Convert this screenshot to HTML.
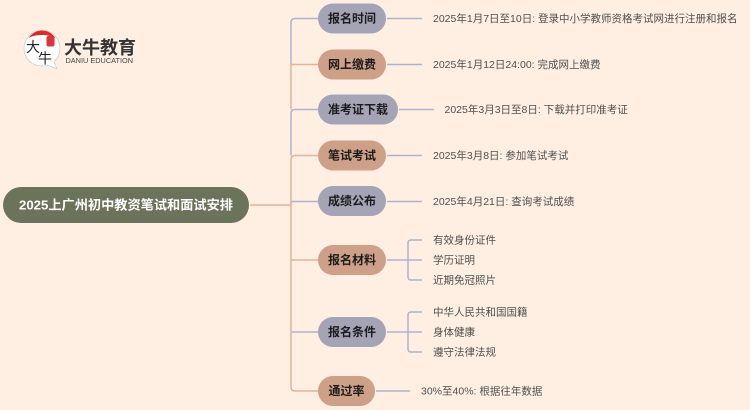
<!DOCTYPE html>
<html lang="zh-CN">
<head>
<meta charset="utf-8">
<title>2025上广州初中教资笔试和面试安排</title>
<style>
html,body{margin:0;padding:0;background:#FFEFE2;width:750px;height:410px;overflow:hidden}
svg{display:block}
text{font-family:"Liberation Sans","Noto Sans CJK SC",sans-serif}
.n{font-size:12px;font-weight:700;fill:#1c1c1c;text-anchor:middle}
.t{font-size:10.500px;fill:#4f4f4f}
.o{stroke:#E2B49A;stroke-width:1.5;fill:none}
.b{stroke:#B0B2CB;stroke-width:1.5;fill:none}
</style>
</head>
<body>
<svg width="750" height="410" viewBox="0 0 750 410" xmlns="http://www.w3.org/2000/svg">
<rect width="750" height="410" fill="#FFEFE2"/>

<!-- root connector and trunk -->
<path class="o" d="M250 205H291"/>
<path class="b" d="M318 18.500H295Q291 18.500 291 22.500V64.500"/>
<path class="o" d="M318 64.500H291"/>
<path class="b" d="M318 109.500H295Q291 109.500 291 113.500V155.500"/>
<path class="o" d="M318 155.500H295Q291 155.500 291 159.500V205"/>
<path class="o" d="M291 64.500V109.500"/>
<path class="o" d="M291 201V387Q291 391 295 391H318"/>
<path class="b" d="M291 201.500H318"/>
<path class="o" d="M291 260H318"/>
<path class="b" d="M291 332H318"/>

<!-- child connectors -->
<path class="b" d="M387 18.500H422"/>
<path class="b" d="M387 64.500H422"/>
<path class="b" d="M399 109.500H434"/>
<path class="b" d="M387 155.500H422"/>
<path class="b" d="M387 201.500H422"/>
<path class="b" d="M376 391H410"/>
<path class="b" d="M387 260H422M422 240H411Q408 240 408 243V277Q408 280 411 280H422"/>
<path class="b" d="M387 332H422M422 312H411Q408 312 408 315V349Q408 352 411 352H422"/>

<!-- root -->
<rect x="3" y="187" width="246" height="36" rx="18" fill="#6B735B"/>
<text x="126" y="209.500" font-size="13.200" font-weight="700" fill="#fff" text-anchor="middle">2025上广州初中教资笔试和面试安排</text>

<!-- branch nodes -->
<rect x="318" y="3.500" width="68" height="30" rx="15" fill="#A4A4B6"/>
<rect x="318" y="49.500" width="68" height="30" rx="15" fill="#CFA088"/>
<rect x="318" y="94.500" width="80" height="30" rx="15" fill="#A4A4B6"/>
<rect x="318" y="140.500" width="68" height="30" rx="15" fill="#CFA088"/>
<rect x="318" y="186" width="68" height="30" rx="15" fill="#A4A4B6"/>
<rect x="318" y="245" width="68" height="30" rx="15" fill="#CFA088"/>
<rect x="318" y="317" width="68" height="30" rx="15" fill="#A4A4B6"/>
<rect x="318" y="376" width="57" height="30" rx="15" fill="#CFA088"/>

<text class="n" x="352" y="22.700">报名时间</text>
<text class="n" x="352" y="68.700">网上缴费</text>
<text class="n" x="358" y="113.700">准考证下载</text>
<text class="n" x="352" y="159.700">笔试考试</text>
<text class="n" x="352" y="205.200">成绩公布</text>
<text class="n" x="352" y="264.200">报名材料</text>
<text class="n" x="352" y="336.200">报名条件</text>
<text class="n" x="346.500" y="395.200">通过率</text>

<!-- leaf text -->
<text class="t" x="433" y="22.200">2025年1月7日至10日: 登录中小学教师资格考试网进行注册和报名</text>
<text class="t" x="433" y="68.200">2025年1月12日24:00: 完成网上缴费</text>
<text class="t" x="444.500" y="113.200">2025年3月3日至8日: 下载并打印准考证</text>
<text class="t" x="433" y="159.200">2025年3月8日: 参加笔试考试</text>
<text class="t" x="433" y="205.200">2025年4月21日: 查询考试成绩</text>
<text class="t" x="433" y="243.500">有效身份证件</text>
<text class="t" x="433" y="263.700">学历证明</text>
<text class="t" x="433" y="283.700">近期免冠照片</text>
<text class="t" x="433" y="315.700">中华人民共和国国籍</text>
<text class="t" x="433" y="335.700">身体健康</text>
<text class="t" x="433" y="355.700">遵守法律法规</text>
<text class="t" x="421" y="394.700">30%至40%: 根据往年数据</text>

<!-- logo -->
<path d="M42 30.500C32 30.500 24 38.500 24 48.500C24 58.500 32 66 42 66C44 66 46 65.800 47.500 65L57 69L54 62C58 58 60 54 60 48.500C60 38.500 52 30.500 42 30.500Z" fill="#fff" stroke="#c9c9c9" stroke-width="0.700"/>
<path d="M28.500 38C32 33 37 30.500 42 30.500C47 30.500 52 33 55.500 38C50 35.500 46 35 42 35C37 35 33 35.500 28.500 38Z" fill="#E8262A"/>
<rect x="46.500" y="36" width="8" height="10.500" rx="2" fill="#D9353A"/>
<text x="26" y="52" font-size="14" fill="#222">大</text>
<text x="38" y="63.500" font-size="14" fill="#222">牛</text>
<text x="64" y="54" font-size="18" font-weight="700" fill="#333" textLength="72" lengthAdjust="spacingAndGlyphs">大牛教育</text>
<text x="65.500" y="63" font-size="7" fill="#444" textLength="67.500" lengthAdjust="spacingAndGlyphs">DANIU EDUCATION</text>
</svg>
</body>
</html>
